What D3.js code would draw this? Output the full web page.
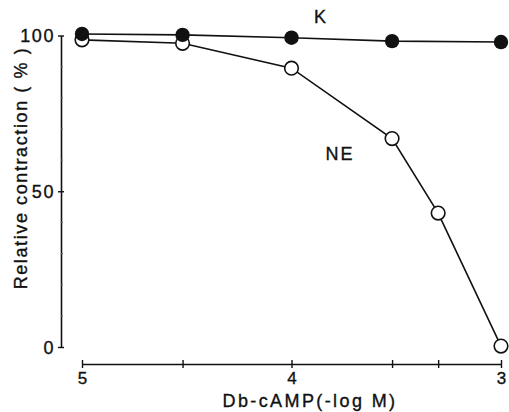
<!DOCTYPE html>
<html>
<head>
<meta charset="utf-8">
<script src="https://cdn.jsdelivr.net/npm/d3@7"></script>
<style>
  html, body { margin: 0; padding: 0; background: #fff; }
  svg { display: block; }
  text { font-family: "Liberation Sans", Arial, Helvetica, sans-serif; fill: #111; stroke: #111; stroke-width: 0.35px; }
</style>
</head>
<body>
<svg id="chart" width="509" height="412"></svg>
<script>
// Data
const kX = [5, 4.52, 4, 3.52, 3];
const kY = [100.5, 100.2, 99.3, 98.2, 97.9];
const neX = [5, 4.52, 4, 3.52, 3.3, 3];
const neY = [98.6, 97.5, 89.5, 66.9, 43.0, 0.3];
const xTickValues = [5, 4.52, 4, 3.52, 3.3, 3];
const xTickLabels = ["5", "", "4", "", "", "3"];
const yTickValues = [0, 50, 100];
const yMinorTicks = [10, 20, 30, 40, 60, 70, 80, 90];

const svg = d3.select("#chart");
const x = d3.scaleLinear().domain([5, 3]).range([82, 501]);
const y = d3.scaleLinear().domain([0, 100]).range([347, 35.5]);
const ink = "#111";

// Y axis
const yAxis = d3.axisLeft(y).tickValues(yTickValues).tickSize(0).tickPadding(6)
  .tickFormat(d3.format("d"));
const gy = svg.append("g").attr("transform", "translate(61,0)").call(yAxis);
gy.select(".domain").attr("stroke", ink).attr("stroke-width", 1.6);
gy.selectAll(".tick text").attr("font-size", 18).attr("letter-spacing", 1.6)
  .attr("dy", "0.36em").style("font-family", "Liberation Sans, Arial, sans-serif")
  .style("fill", ink).style("stroke", ink).style("stroke-width", "0.35px");
gy.selectAll(".tick").append("line").attr("x1", -3).attr("x2", 3)
  .attr("stroke", ink).attr("stroke-width", 1.4);
svg.append("g").selectAll("line").data(yMinorTicks).join("line")
  .attr("x1", 61).attr("x2", 63).attr("y1", d => y(d)).attr("y2", d => y(d))
  .attr("stroke", "#666").attr("stroke-width", 1);

// X axis
const xAxis = d3.axisBottom(x).tickValues(xTickValues).tickSize(0).tickPadding(8)
  .tickFormat((d, i) => xTickLabels[i]);
const gx = svg.append("g").attr("transform", "translate(0,364)").call(xAxis);
gx.select(".domain").attr("stroke", ink).attr("stroke-width", 1.6);
gx.selectAll(".tick text").attr("font-size", 17)
  .style("font-family", "Liberation Sans, Arial, sans-serif")
  .style("fill", ink).style("stroke", ink).style("stroke-width", "0.35px");
gx.selectAll(".tick").append("line").attr("y1", -4).attr("y2", 4)
  .attr("stroke", ink).attr("stroke-width", 1.4);

// Lines
const line = d3.line().x(d => x(d[0])).y(d => y(d[1]));
const kData = kX.map((v, i) => [v, kY[i]]);
const neData = neX.map((v, i) => [v, neY[i]]);
svg.append("path").datum(kData).attr("d", line).attr("fill", "none")
  .attr("stroke", ink).attr("stroke-width", 1.6);
svg.append("path").datum(neData).attr("d", line).attr("fill", "none")
  .attr("stroke", ink).attr("stroke-width", 1.6);

// Markers
svg.append("g").selectAll("circle").data(neData).join("circle")
  .attr("cx", d => x(d[0])).attr("cy", d => y(d[1])).attr("r", 6.8)
  .attr("fill", "#fff").attr("stroke", ink).attr("stroke-width", 1.6);
svg.append("g").selectAll("circle").data(kData).join("circle")
  .attr("cx", d => x(d[0])).attr("cy", d => y(d[1])).attr("r", 7.2)
  .attr("fill", ink);

// Series labels
svg.append("text").attr("x", 320).attr("y", 23).attr("text-anchor", "middle")
  .attr("font-size", 18).text("K");
svg.append("text").attr("x", 340).attr("y", 160).attr("text-anchor", "middle")
  .attr("font-size", 18).attr("letter-spacing", 2).text("NE");

// Axis titles
svg.append("text").attr("x", 310).attr("y", 407).attr("text-anchor", "middle")
  .attr("font-size", 18).attr("letter-spacing", 2.4).text("Db-cAMP(-log M)");
svg.append("text").attr("transform", "translate(27,168) rotate(-90)")
  .attr("text-anchor", "middle").attr("font-size", 18).attr("letter-spacing", 1.6)
  .text("Relative contraction ( % )");
</script>
</body>
</html>
